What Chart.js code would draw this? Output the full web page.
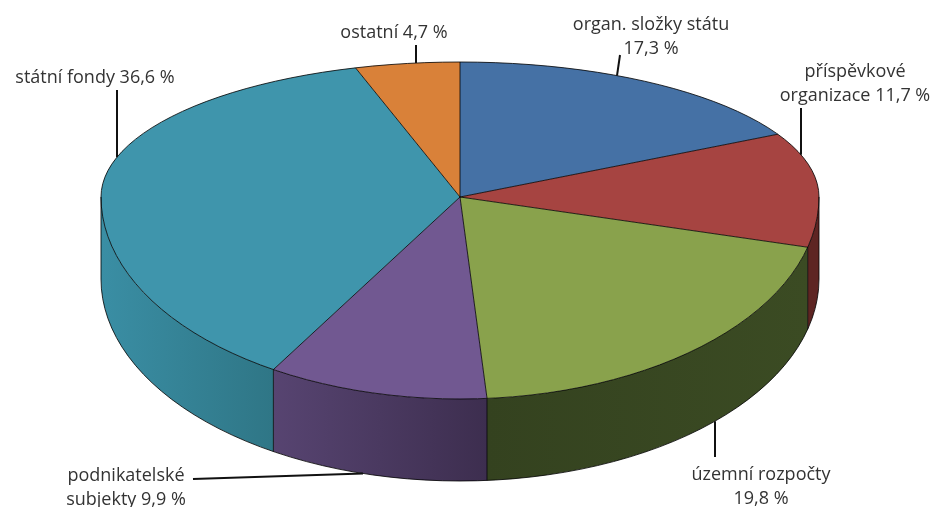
<!DOCTYPE html>
<html>
<head>
<meta charset="utf-8">
<script src="https://cdn.jsdelivr.net/npm/chart.js@4.4.0/dist/chart.umd.min.js"></script>
<style>
    html, body { margin: 0; padding: 0; background: #fff; }
    #wrap { width: 937px; height: 507px; position: relative; }
</style>
</head>
<body>
<div id="wrap"><canvas id="pie"></canvas></div>
<script>
// data
const categories = ['organ. složky státu', 'příspěvkové organizace', 'územní rozpočty', 'podnikatelské subjekty', 'státní fondy', 'ostatní'];
const shares = [17.3, 11.7, 19.8, 9.9, 36.6, 4.7];

// styles
const topColors = ['#4571a5', '#a64441', '#89a24c', '#715891', '#3f95ac', '#d98139'];
const sideColors = [
    ['#2f4e73', '#2a4566'],
    ['#5e2523', '#5e2523'],
    ['#34421f', '#3b4b23'],
    ['#574471', '#3d2e4f'],
    ['#3a8ea4', '#2f7686'],
    ['#9a5a26', '#8a5020']
];

// perspective look: wider lower half, flatter upper half
const rx = 359, ryUp = 135, ryLow = 202, depth = 82;

// label placement (center x, first baseline, words on first line, leader line start + end x on top/bottom edge)
const labelLayout = [
    { x: 651, y: 30, split: 3, lead: [620, 55, 617, 'top'] },
    { x: 855, y: 77, split: 1, lead: [801, 108, 801, 'top'] },
    { x: 761, y: 480, split: 2, lead: [715, 457, 715, 'bottom'] },
    { x: 126, y: 481, split: 1, lead: [193, 479, 363, 'bottom'] },
    { x: 95, y: 83, split: 99, lead: [117, 90, 117, 'top'] },
    { x: 394, y: 38, split: 99, lead: [416, 45, 416, 'top'] }
];

function fmt(v) {
    return v.toFixed(1).replace('.', ',') + ' %';
}

const pie3d = {
    id: 'pie3d',
    beforeDatasetsDraw(chart) {
        const ctx = chart.ctx;
        const arcs = chart.getDatasetMeta(0).data;
        const cx = arcs[0].x, cy = arcs[0].y, R = arcs[0].outerRadius;

        const px = a => cx + rx * Math.cos(a);
        const py = a => cy + (Math.sin(a) < 0 ? ryUp : ryLow) * Math.sin(a);

        // side walls, only the front half shows
        arcs.forEach((arc, i) => {
            const a1 = Math.max(arc.startAngle, 0);
            const a2 = Math.min(arc.endAngle, Math.PI);
            if (a2 <= a1) return;
            const xa = px(a1), xb = px(a2);
            const g = ctx.createLinearGradient(Math.min(xa, xb), 0, Math.max(xa, xb), 0);
            g.addColorStop(0, sideColors[i][0]);
            g.addColorStop(1, sideColors[i][1]);
            ctx.beginPath();
            ctx.ellipse(cx, cy, rx, ryLow, 0, a1, a2);
            ctx.ellipse(cx, cy + depth, rx, ryLow, 0, a2, a1, true);
            ctx.closePath();
            ctx.fillStyle = g;
            ctx.fill();
        });

        // top face: the arc elements themselves, squashed per half
        [[-1, ryUp], [1, ryLow]].forEach(([side, ry]) => {
            ctx.save();
            ctx.beginPath();
            if (side < 0) ctx.rect(0, 0, chart.width, cy + 1);
            else ctx.rect(0, cy, chart.width, chart.height - cy);
            ctx.clip();
            ctx.translate(cx, cy);
            ctx.scale(rx / R, ry / R);
            ctx.translate(-cx, -cy);
            arcs.forEach(a => a.draw(ctx));
            ctx.restore();
        });

        // outlines
        ctx.save();
        ctx.strokeStyle = 'rgba(0,0,0,0.8)';
        ctx.lineWidth = 1;
        ctx.beginPath();
        ctx.ellipse(cx, cy, rx, ryUp, 0, Math.PI, 2 * Math.PI);
        ctx.ellipse(cx, cy, rx, ryLow, 0, 0, Math.PI);
        ctx.moveTo(cx + rx, cy);
        ctx.lineTo(cx + rx, cy + depth);
        ctx.ellipse(cx, cy + depth, rx, ryLow, 0, 0, Math.PI);
        ctx.lineTo(cx - rx, cy);
        arcs.forEach(arc => {
            const a = arc.startAngle;
            ctx.moveTo(cx, cy);
            ctx.lineTo(px(a), py(a));
            if (Math.sin(a) > 0.01) {
                ctx.moveTo(px(a), py(a));
                ctx.lineTo(px(a), py(a) + depth);
            }
        });
        ctx.stroke();
        ctx.restore();
        return false;
    },
    afterDraw(chart) {
        const ctx = chart.ctx;
        const arc0 = chart.getDatasetMeta(0).data[0];
        const cx = arc0.x, cy = arc0.y;
        ctx.save();
        ctx.strokeStyle = '#111';
        ctx.lineWidth = 2;
        labelLayout.forEach(l => {
            const [x0, y0, x1, edge] = l.lead;
            const c = (x1 - cx) / rx;
            const s = Math.sqrt(Math.max(0, 1 - c * c));
            const y1 = edge === 'top' ? cy - ryUp * s : cy + depth + ryLow * s;
            ctx.beginPath();
            ctx.moveTo(x0, y0);
            ctx.lineTo(x1, y1);
            ctx.stroke();
        });
        ctx.font = '18px "Open Sans"';
        ctx.fillStyle = '#333';
        ctx.textAlign = 'center';
        ctx.textBaseline = 'alphabetic';
        categories.forEach((name, i) => {
            const l = labelLayout[i];
            const words = (name + ' ' + fmt(shares[i])).split(' ');
            const lines = [words.slice(0, l.split).join(' '), words.slice(l.split).join(' ')];
            lines.forEach((t, k) => {
                if (t) ctx.fillText(t, l.x, l.y + k * 24);
            });
        });
        ctx.restore();
    }
};

new Chart(document.getElementById('pie'), {
    type: 'pie',
    data: {
        labels: categories,
        datasets: [{
            data: shares,
            backgroundColor: topColors,
            borderWidth: 0
        }]
    },
    options: {
        responsive: true,
        maintainAspectRatio: false,
        animation: false,
        events: [],
        layout: { padding: { left: 0, right: 17, top: 0, bottom: 113 } },
        plugins: {
            legend: { display: false },
            tooltip: { enabled: false }
        }
    },
    plugins: [pie3d]
});
</script>
</body>
</html>
